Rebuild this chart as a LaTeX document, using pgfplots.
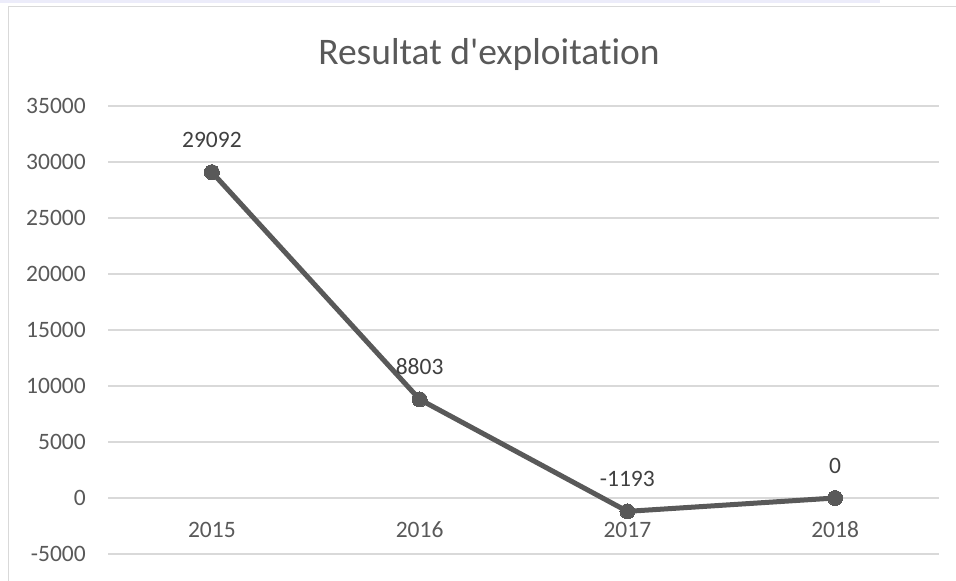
\documentclass[border=0pt]{standalone}
\usepackage{pgfplots}
\pgfplotsset{compat=1.18}
\usepackage{fontspec}
\setmainfont{Carlito}
\definecolor{linegray}{HTML}{595959}
\definecolor{gridgray}{HTML}{D9D9D9}
\definecolor{labgray}{HTML}{404040}
\definecolor{band}{RGB}{236,236,250}
\begin{document}
\begin{tikzpicture}[x=1pt,y=1pt]
\path[use as bounding box, fill=white] (0,0) rectangle (956,581);
\fill[band] (0,577.5) rectangle (880,581);
\draw[gridgray, line width=1.5pt] (8.5,0) -- (8.5,574.5) -- (956,574.5);
\node[anchor=base, text=linegray, inner sep=0pt, font=\fontsize{37.5}{40}\selectfont\addfontfeatures{Ligatures=NoCommon}] at (489,516) {Resultat d\textquotesingle exploitation};
\begin{axis}[
  at={(108pt,27pt)}, anchor=south west,
  scale only axis, width=831pt, height=448pt,
  xmin=-0.5, xmax=3.5, ymin=-5000, ymax=35000,
  scaled y ticks=false,
  axis line style={draw=none},
  major tick length=0pt,
  ymajorgrids, grid style={gridgray, line width=1.5pt},
  xtick={0,1,2,3}, xticklabels={2015,2016,2017,2018},
  ytick={-5000,0,5000,10000,15000,20000,25000,30000,35000},
  yticklabels={-5000,0,5000,10000,15000,20000,25000,30000,35000},
  ticklabel style={font=\fontsize{23.5}{26}\selectfont, text=linegray},
  yticklabel style={anchor=east, inner sep=0pt, xshift=-22pt},
  xticklabel style={anchor=base, inner sep=0pt, yshift=16.5pt},
  clip=false,
  nodes near coords, point meta=explicit symbolic,
  every node near coord/.append style={anchor=base, inner sep=0pt, yshift=24.5pt, font=\fontsize{23.5}{26}\selectfont, text=labgray},
]
\addplot[linegray, line width=5pt, mark=*, mark size=7.5pt, mark options={fill=linegray, draw=linegray, line width=0pt}]
  coordinates {(0,29092) [29092] (1,8803) [8803] (2,-1193) [-1193] (3,0) [0]};
\end{axis}
\end{tikzpicture}
\end{document}
